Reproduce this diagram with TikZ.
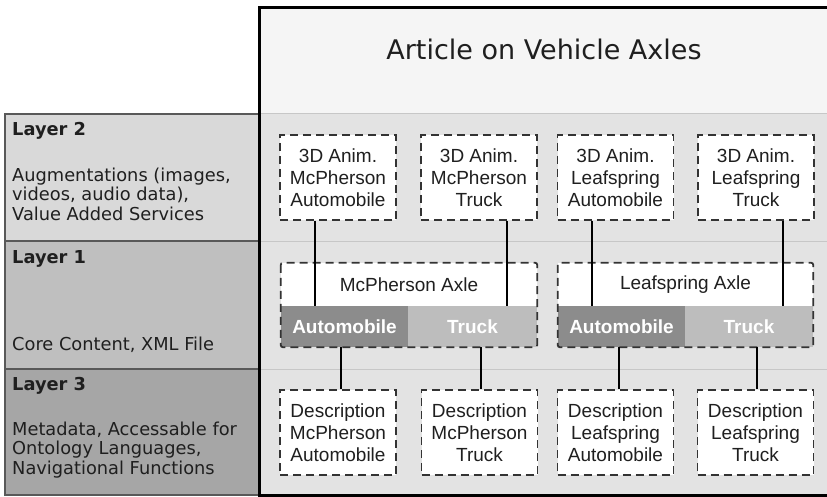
\documentclass[tikz,border=0pt]{standalone}
\usepackage{fontspec}
\setmainfont{Liberation Sans}
\newfontfamily\verd{DejaVu Sans}
\begin{document}
\begin{tikzpicture}[x=1pt,y=-1pt,
  dashline/.style={draw=black!80, dash pattern=on 8pt off 5pt, line width=1.8pt},
  dbox/.style={dashline, fill=white,
    minimum width=116pt, minimum height=85pt, inner sep=0pt, align=center,
    font=\fontsize{19}{22}\selectfont, text=black!88},
  layerbox/.style={draw=black!65, line width=1.2pt},
  ltext/.style={anchor=base west, inner sep=0pt, text=black!88,
    font=\verd\fontsize{17.8}{19.5}\selectfont},
  lhead/.style={ltext, font=\verd\bfseries\fontsize{17.8}{19.5}\selectfont},
  part/.style={minimum height=41pt, inner sep=0pt, text=white,
    font=\bfseries\fontsize{19}{22}\selectfont},
  conn/.style={draw=black, line width=1.4pt}]
\useasboundingbox (0,0) rectangle (827,497);
\begin{scope}
\clip (0,0) rectangle (827,497);
\fill[black!4] (259,8) rectangle (840,114);
\fill[black!11] (259,114) rectangle (840,495);
\draw[black!22, line width=1pt] (259,114) -- (840,114) (259,241) -- (840,241) (259,369) -- (840,369);
\draw[layerbox, fill=black!15] (5,114) rectangle (259,241);
\draw[layerbox, fill=black!25] (5,241) rectangle (259,369);
\draw[layerbox, fill=black!35] (5,369) rectangle (259,495);
\draw[line width=3pt] (259,8) rectangle (840,495);
\end{scope}

% title
\node[anchor=base, inner sep=0pt, text=black!88, font=\verd\fontsize{27}{32}\selectfont] (title) at (544,60) {Article on Vehicle Axles};

% layer texts
\node[lhead] (l2h) at (12,136) {Layer 2};
\node[ltext] (l2t) at (12,181.5) {\begin{tabular}[t]{@{}l@{}}Augmentations (images,\\videos, audio data),\\Value Added Services\end{tabular}};
\node[lhead] (l1h) at (12,263) {Layer 1};
\node[ltext] (l1t) at (12,350) {Core Content, XML File};
\node[lhead] (l3h) at (12,390.5) {Layer 3};
\node[ltext] (l3t) at (12,435) {\begin{tabular}[t]{@{}l@{}}Metadata, Accessable for\\Ontology Languages,\\Navigational Functions\end{tabular}};

% layer 2 boxes
\node[dbox] (a1) at (338,177.5) {3D Anim.\\McPherson\\Automobile};
\node[dbox] (a2) at (479,177.5) {3D Anim.\\McPherson\\Truck};
\node[dbox] (a3) at (615.5,177.5) {3D Anim.\\Leafspring\\Automobile};
\node[dbox] (a4) at (756,177.5) {3D Anim.\\Leafspring\\Truck};

% axle boxes
\node[fill=white, minimum width=256pt, minimum height=84pt, inner sep=0pt] (mx) at (409,305) {};
\node[fill=white, minimum width=255pt, minimum height=84pt, inner sep=0pt] (lx) at (685.5,305) {};
\node[font=\fontsize{19}{22}\selectfont, text=black!88] (mxl) at (409,285) {McPherson Axle};
\node[font=\fontsize{19}{22}\selectfont, text=black!88] (lxl) at (685.5,285) {Leafspring Axle};
\node[part, fill=black!45, minimum width=127pt] (ma) at (344.5,326.5) {Automobile};
\node[part, fill=black!26, minimum width=129pt] (mt) at (472.5,326.5) {Truck};
\node[part, fill=black!45, minimum width=127pt] (la) at (621.5,326.5) {Automobile};
\node[part, fill=black!26, minimum width=128pt] (lt) at (749,326.5) {Truck};
\draw[dashline, rounded corners=2pt] (mx.north west) rectangle (mx.south east);
\draw[dashline, rounded corners=2pt] (lx.north west) rectangle (lx.south east);

% description boxes
\node[dbox] (d1) at (338,432.5) {Description\\McPherson\\Automobile};
\node[dbox] (d2) at (479.5,432.5) {Description\\McPherson\\Truck};
\node[dbox] (d3) at (615.5,432.5) {Description\\Leafspring\\Automobile};
\node[dbox] (d4) at (755.5,432.5) {Description\\Leafspring\\Truck};

% connector x positions
\coordinate (x1) at (315,0);
\coordinate (x2) at (507,0);
\coordinate (x3) at (592,0);
\coordinate (x4) at (783,0);
\coordinate (y1) at (341,0);
\coordinate (y2) at (481,0);
\coordinate (y3) at (619,0);
\coordinate (y4) at (757,0);

\draw[conn] (a1.south -| x1) -- (ma.north -| x1);
\draw[conn] (a2.south -| x2) -- (mt.north -| x2);
\draw[conn] (a3.south -| x3) -- (la.north -| x3);
\draw[conn] (a4.south -| x4) -- (lt.north -| x4);
\draw[conn] (ma.south -| y1) -- (d1.north -| y1);
\draw[conn] (mt.south -| y2) -- (d2.north -| y2);
\draw[conn] (la.south -| y3) -- (d3.north -| y3);
\draw[conn] (lt.south -| y4) -- (d4.north -| y4);
\end{tikzpicture}
\end{document}
